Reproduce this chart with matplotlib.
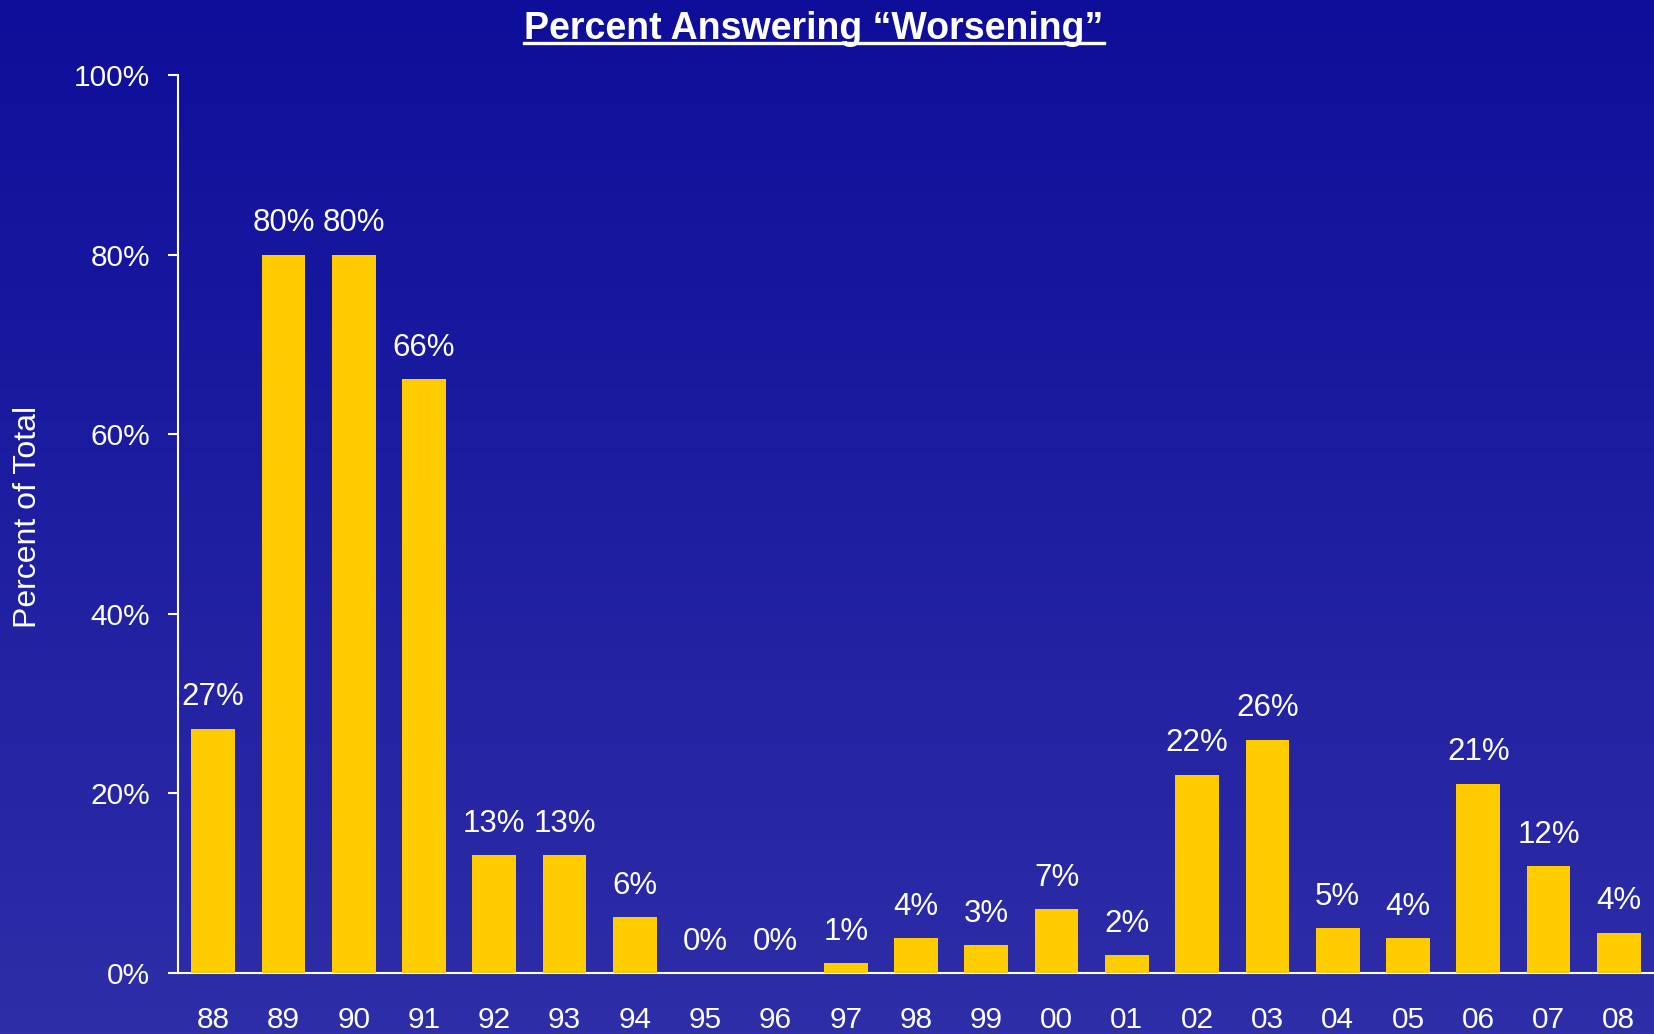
import numpy as np
import matplotlib
matplotlib.use("Agg")
import matplotlib.pyplot as plt
from matplotlib.lines import Line2D
from matplotlib.colors import LinearSegmentedColormap

categories = ["88", "89", "90", "91", "92", "93", "94", "95", "96", "97", "98",
              "99", "00", "01", "02", "03", "04", "05", "06", "07", "08"]
values = [27.2, 80, 80, 66.1, 13.1, 13.1, 6.2, 0, 0, 1.1, 3.9,
          3.1, 7.1, 2.0, 22.1, 26.0, 5.0, 3.9, 21.1, 11.9, 4.5]
labels = ["27%", "80%", "80%", "66%", "13%", "13%", "6%", "0%", "0%", "1%", "4%",
          "3%", "7%", "2%", "22%", "26%", "5%", "4%", "21%", "12%", "4%"]
yticks = [0, 20, 40, 60, 80, 100]
ytick_labels = ["0%", "20%", "40%", "60%", "80%", "100%"]
title = "Percent Answering \u201cWorsening\u201d"
ylabel = "Percent of Total"

plt.rcParams['font.family'] = ['Liberation Sans', 'DejaVu Sans']

fig = plt.figure(figsize=(16.54, 10.34), dpi=100)

# gradient background
bg = fig.add_axes([0, 0, 1, 1], zorder=-10)
cmap = LinearSegmentedColormap.from_list("bg", ["#0e0e9a", "#2e2ea8"])
grad = np.linspace(0, 1, 256).reshape(-1, 1)
bg.imshow(grad, aspect='auto', cmap=cmap, extent=[0, 1, 0, 1], origin='upper')
bg.set_axis_off()

ax = fig.add_axes([178 / 1654, 1 - 973 / 1034, 1 - 178 / 1654, (973 - 75) / 1034])
ax.patch.set_alpha(0)
x = np.arange(len(categories))
bars = ax.bar(x, values, width=0.62, color="#ffcc00", zorder=3)
ax.set_xlim(-0.5, len(categories) - 0.5)
ax.set_ylim(0, 100)

for xi, v, lab in zip(x, values, labels):
    ax.annotate(lab, (xi, v), xytext=(0, 22.5), textcoords='offset points',
                ha='center', va='center', color='white', fontsize=22.5)

ax.set_yticks(yticks)
ax.set_yticklabels(ytick_labels)
ax.set_xticks(x)
ax.set_xticklabels(categories)
ax.tick_params(axis='y', colors='white', labelcolor='white', labelsize=21.5,
               length=7.2, width=1.5, pad=13)
ax.tick_params(axis='x', labelcolor='white', labelsize=21.5, length=0, pad=24)
for s in ['top', 'right']:
    ax.spines[s].set_visible(False)
for s in ['left', 'bottom']:
    ax.spines[s].set_color('white')
    ax.spines[s].set_linewidth(1.5)

fig.text(28 / 1654, 1 - 517 / 1034, ylabel, rotation=90, ha='center', va='center',
         color='white', fontsize=23)

t = fig.text(814 / 1654, 1 - 29 / 1034, title, ha='center', va='center',
             color='white', fontsize=27, fontweight='bold')

fig.canvas.draw()
bb = t.get_window_extent(renderer=fig.canvas.get_renderer())
W, H = fig.bbox.width, fig.bbox.height
yline = 1 - 43 / 1034
fig.add_artist(Line2D([bb.x0 / W, bb.x1 / W], [yline, yline], color='white',
                      linewidth=2.4, transform=fig.transFigure))

fig.savefig("out.png", dpi=100)
